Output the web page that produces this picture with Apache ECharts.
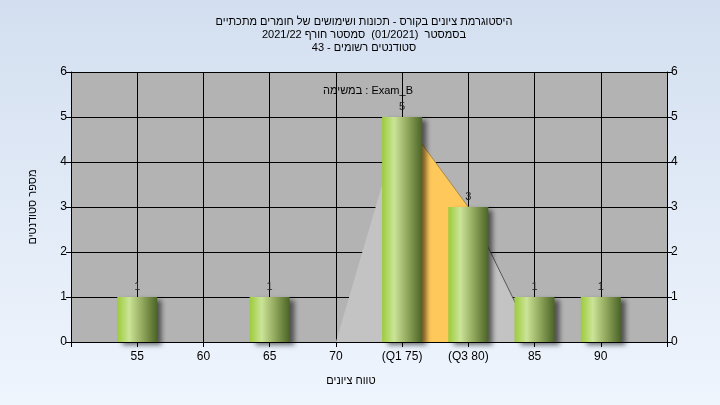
<!DOCTYPE html>
<html><head><meta charset="utf-8">
<script src="https://cdn.jsdelivr.net/npm/echarts@6/dist/echarts.min.js"></script>
<style>html,body{margin:0;padding:0;}#c{width:720px;height:405px;}</style>
</head><body><div id="c"></div>
<script>
// ---- data ----
const gradeBins = [55, 60, 65, 70, 75, 80, 85, 90];
const studentCounts = [1, 0, 1, 0, 5, 3, 1, 1];
const curveX = [70, 75, 80, 85];
const curveY = [0, 5, 3, 0];
const tailX = [80, 85];
const tailY = [3, 0];
const quartileX = [75, 80];
const quartileY = [5, 3];
const quartileLabels = {75: '(Q1 75)', 80: '(Q3 80)'};
const titleLines = [
  'היסטוגרמת ציונים בקורס - תכונות ושימושים של חומרים מתכתיים',
  'בסמסטר  (01/2021)  סמסטר חורף 2021/22',
  'סטודנטים רשומים - 43'
];
const legendText = 'במשימה : Exam_B';
const xName = 'טווח ציונים';
const yName = 'מספר סטודנטים';

const FONT = '"Liberation Sans", Arial, sans-serif';
const barData = gradeBins.map((g, i) => [g, studentCounts[i]]).filter(d => d[1] > 0);

const chart = echarts.init(document.getElementById('c'));
const axisCommon = {
  axisLine: {show: true, lineStyle: {color: '#000', width: 1}},
  axisTick: {show: true, length: 5, lineStyle: {color: '#000'}},
  axisLabel: {color: '#000', fontSize: 12, fontFamily: FONT, margin: 4},
};
chart.setOption({
  animation: false,
  backgroundColor: new echarts.graphic.LinearGradient(0, 0, 0, 1, [
    {offset: 0, color: '#d3dff0'}, {offset: 1, color: '#eff5fd'}
  ]),
  title: [{
    text: titleLines.join('\n'),
    left: 359, textAlign: 'center', top: 10,
    textStyle: {fontSize: 11, fontWeight: 'normal', color: '#000', fontFamily: FONT, lineHeight: 13}
  }, {
    text: legendText,
    left: 363, textAlign: 'center', top: 80,
    textStyle: {fontSize: 11, fontWeight: 'normal', color: '#000', fontFamily: FONT}
  }],
  grid: {left: 71, right: 53, top: 72, bottom: 63, show: true, backgroundColor: '#b3b3b3', borderWidth: 0},
  xAxis: {
    type: 'value', min: 50, max: 95, interval: 5,
    ...axisCommon,
    axisLabel: {...axisCommon.axisLabel, margin: 9,
      formatter: v => (v === 50 || v === 95) ? '' : (quartileLabels[v] || String(v))},
    splitLine: {show: true, lineStyle: {color: '#000', width: 1}},
    name: xName, nameLocation: 'middle', nameGap: 33,
    nameTextStyle: {fontSize: 11, color: '#000', fontFamily: FONT, padding: [0, 36, 0, 0]}
  },
  yAxis: [{
    type: 'value', min: 0, max: 6, interval: 1, position: 'left',
    ...axisCommon,
    splitLine: {show: true, lineStyle: {color: '#000', width: 1}},
    name: yName, nameLocation: 'middle', nameGap: 33, nameRotate: 90,
    nameTextStyle: {fontSize: 11, color: '#000', fontFamily: FONT}
  }, {
    type: 'value', min: 0, max: 6, interval: 1, position: 'right',
    ...axisCommon,
    splitLine: {show: false}
  }],
  series: [{
    type: 'line', data: curveX.map((x, i) => [x, curveY[i]]),
    symbol: 'none', z: 2,
    lineStyle: {width: 0},
    areaStyle: {color: '#c3c3c3', opacity: 1}
  }, {
    type: 'line', data: tailX.map((x, i) => [x, tailY[i]]),
    symbol: 'none', z: 2,
    lineStyle: {color: '#555', width: 1}
  }, {
    type: 'line', data: quartileX.map((x, i) => [x, quartileY[i]]),
    symbol: 'none', z: 3,
    lineStyle: {color: '#a08a55', width: 1},
    areaStyle: {color: '#ffc85a', opacity: 1}
  }, {
    type: 'bar', data: barData, barWidth: 40, z: 5,
    itemStyle: {
      color: new echarts.graphic.LinearGradient(0, 0, 1, 0, [
        {offset: 0, color: '#9ccb3b'},
        {offset: 0.3, color: '#cbe497'},
        {offset: 0.6, color: '#97ad62'},
        {offset: 1, color: '#4b6426'}
      ]),
      shadowColor: 'rgba(0,0,0,0.55)', shadowBlur: 5, shadowOffsetX: 5, shadowOffsetY: 3
    },
    label: {show: true, position: 'top', distance: 5, color: '#222', fontSize: 11, fontFamily: FONT}
  }]
});
</script></body></html>
